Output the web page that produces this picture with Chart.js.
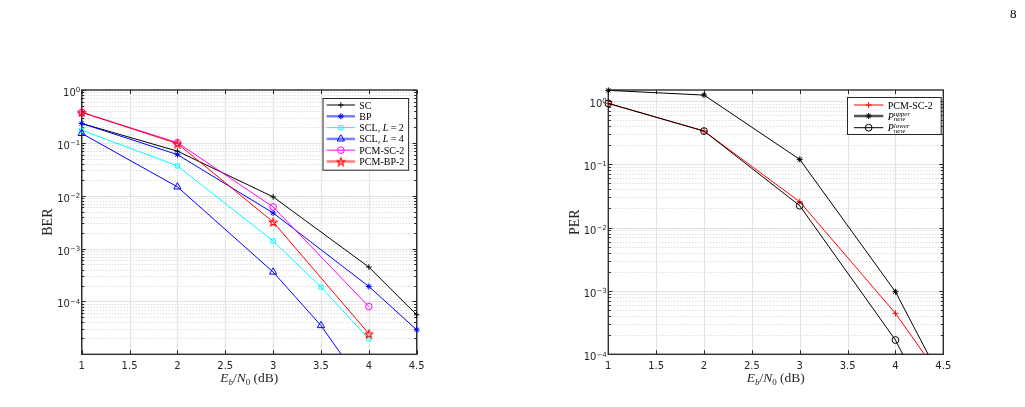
<!DOCTYPE html>
<html>
<head>
<meta charset="utf-8">
<script src="https://cdn.jsdelivr.net/npm/chart.js@4.4.1/dist/chart.umd.min.js"></script>
<style>
  html, body { margin: 0; padding: 0; background: #fff; }
  #page { position: relative; width: 1025px; height: 407px; overflow: hidden; }
  canvas { position: absolute; top: 0; }
  #pagenum { position: absolute; left: 1010px; top: 7px; font: 13px "Liberation Serif", serif; line-height: 13px; color: #000; }
</style>
</head>
<body>
<div id="page">
  <canvas id="ber" width="512" height="407" style="left:0"></canvas>
  <canvas id="per" width="513" height="407" style="left:512px"></canvas>
  <div id="pagenum">8</div>
</div>
<script>
// BER plot (left)
const snrA = [1, 2, 3, 4, 4.5];
const snrB = [1, 2, 3, 3.5, 4];
const snrC = [1, 2, 3, 4];
const berSC    = [0.233, 0.0697, 0.0095, 4.47e-4, 5.6e-5];
const berBP    = [0.233, 0.060, 0.00472, 1.92e-4, 2.9e-5];
const berSCL2  = [0.174, 0.0367, 0.00139, 1.87e-4, 1.96e-5];
const berSCL4  = [0.151, 0.0147, 3.6e-4, 3.5e-5, 1.8e-6];
const berPCMSC = [0.378, 0.101, 0.00614, 8.0e-5];
const berPCMBP = [0.378, 0.097, 0.00319, 2.45e-5];

// PER plot (right)
const snrP = [1, 2, 3, 4, 4.5];
const perPCMSC = [0.91, 0.333, 0.0255, 4.43e-4, 3.8e-5];
const perUpper = [1.46, 1.23, 0.119, 9.7e-4, 3.5e-5];
const perLower = [0.91, 0.333, 0.0221, 1.68e-4, 5.5e-6];

const xTicks = [1, 1.5, 2, 2.5, 3, 3.5, 4, 4.5];
const berDecades = [0, -1, -2, -3, -4];
const perDecades = [0, -1, -2, -3, -4];

const TXT = '#262626';
const SERIF = '"Liberation Serif", "Times New Roman", serif';
const SANS = '"DejaVu Sans", sans-serif';

function pentagram(color, size) {
  const c = document.createElement('canvas');
  c.width = c.height = size;
  const g = c.getContext('2d');
  const cx = size / 2, cy = size / 2 + 0.5, R = size / 2 - 0.8, r = R * 0.42;
  g.beginPath();
  for (let i = 0; i < 10; i++) {
    const a = -Math.PI / 2 + i * Math.PI / 5;
    const rr = i % 2 ? r : R;
    g.lineTo(cx + rr * Math.cos(a), cy + rr * Math.sin(a));
  }
  g.closePath();
  g.strokeStyle = color;
  g.lineWidth = 1.1;
  g.stroke();
  return c;
}
const star5 = pentagram('#ff0000', 10);

function line(label, xs, ys, color, style, r, i) {
  return {
    label: label,
    data: xs.map((x, k) => ({ x: x, y: ys[k] })),
    borderColor: color, borderWidth: 1,
    pointStyle: style, pointRadius: r, pointHoverRadius: r,
    pointBorderColor: color, pointBackgroundColor: 'rgba(0,0,0,0)', pointBorderWidth: 1,
    fill: false, tension: 0, order: 10 - i,
    clip: { left: 10, top: 10, right: 10, bottom: 0 }
  };
}

// legend marker, same shapes as the chart points
function marker(ctx, style, x, y, r, color) {
  ctx.save();
  if (style instanceof HTMLCanvasElement) {
    ctx.drawImage(style, x - style.width / 2, y - style.height / 2);
    ctx.restore();
    return;
  }
  ctx.strokeStyle = color; ctx.lineWidth = 1;
  ctx.beginPath();
  if (style === 'cross') {
    ctx.moveTo(x - r, y); ctx.lineTo(x + r, y);
    ctx.moveTo(x, y - r); ctx.lineTo(x, y + r);
  } else if (style === 'star') {
    for (let k = 0; k < 4; k++) {
      const a = k * Math.PI / 4;
      ctx.moveTo(x - r * Math.cos(a), y - r * Math.sin(a));
      ctx.lineTo(x + r * Math.cos(a), y + r * Math.sin(a));
    }
  } else if (style === 'rect') {
    const s = r / Math.SQRT2;
    ctx.rect(x - s, y - s, 2 * s, 2 * s);
  } else if (style === 'triangle') {
    for (let k = 0; k < 3; k++) {
      const a = k * 2 * Math.PI / 3;
      ctx.lineTo(x + Math.sin(a) * r, y - Math.cos(a) * r);
    }
    ctx.closePath();
  } else {
    ctx.arc(x, y, r, 0, Math.PI * 2);
  }
  ctx.stroke();
  ctx.restore();
}

function segFont(s, base) {
  return (s.it ? 'italic ' : '') + (s.sz || base) + 'px ' + SERIF;
}
function richWidth(ctx, segs, base) {
  let w = 0;
  segs.forEach(s => { ctx.font = segFont(s, base); if (!s.stay) w += ctx.measureText(s.t).width; });
  return w;
}
function drawRich(ctx, x, y, segs, base) {
  segs.forEach(s => {
    ctx.font = segFont(s, base);
    ctx.fillText(s.t, x, y + (s.dy || 0));
    if (!s.stay) x += ctx.measureText(s.t).width;
  });
}

const frame = {
  id: 'frame',
  beforeDatasetsDraw(chart) {
    const { ctx, chartArea: a, scales: { x, y } } = chart;
    ctx.save();
    const lo = Math.floor(Math.log10(y.min)), hi = Math.ceil(Math.log10(y.max));
    const minor = [], major = [];
    for (let d = lo; d <= hi; d++) {
      for (let m = 1; m <= 9; m++) {
        const v = m * Math.pow(10, d);
        if (v < y.min * 0.999 || v > y.max * 1.001) continue;
        (m === 1 ? major : minor).push(Math.round(y.getPixelForValue(v)) + 0.5);
      }
    }
    // minor dotted grid
    ctx.strokeStyle = '#cfcfcf'; ctx.lineWidth = 1; ctx.setLineDash([1, 2]);
    ctx.beginPath();
    minor.forEach(py => { ctx.moveTo(a.left, py); ctx.lineTo(a.right, py); });
    ctx.stroke();
    // major grid
    ctx.setLineDash([]);
    ctx.strokeStyle = '#e3e3e3'; ctx.lineWidth = 1.2;
    ctx.beginPath();
    major.forEach(py => { ctx.moveTo(a.left, py); ctx.lineTo(a.right, py); });
    xTicks.forEach(v => {
      const px = Math.round(x.getPixelForValue(v)) + 0.5;
      ctx.moveTo(px, a.top); ctx.lineTo(px, a.bottom);
    });
    ctx.stroke();
    // inward ticks
    ctx.strokeStyle = TXT; ctx.lineWidth = 1;
    ctx.beginPath();
    minor.forEach(py => {
      ctx.moveTo(a.left, py); ctx.lineTo(a.left + 2.5, py);
      ctx.moveTo(a.right, py); ctx.lineTo(a.right - 2.5, py);
    });
    major.forEach(py => {
      ctx.moveTo(a.left, py); ctx.lineTo(a.left + 4, py);
      ctx.moveTo(a.right, py); ctx.lineTo(a.right - 4, py);
    });
    xTicks.forEach(v => {
      const px = Math.round(x.getPixelForValue(v)) + 0.5;
      ctx.moveTo(px, a.bottom); ctx.lineTo(px, a.bottom - 4);
      ctx.moveTo(px, a.top); ctx.lineTo(px, a.top + 4);
    });
    ctx.stroke();
    // box
    ctx.strokeStyle = '#2e2e2e'; ctx.lineWidth = 1.4;
    ctx.strokeRect(a.left, a.top, a.right - a.left, a.bottom - a.top);
    ctx.restore();
  },
  afterDraw(chart, args, o) {
    const { ctx, chartArea: a, scales: { x, y } } = chart;
    ctx.save();
    ctx.fillStyle = TXT;
    // decade labels 10^n
    ctx.textAlign = 'left'; ctx.textBaseline = 'alphabetic';
    o.decades.forEach(e => {
      const py = y.getPixelForValue(Math.pow(10, e));
      const ex = e < 0 ? '\u2212' + (-e) : String(e);
      ctx.font = '7px ' + SANS;
      const we = ctx.measureText(ex).width;
      ctx.font = '10px ' + SANS;
      const wb = ctx.measureText('10').width;
      const right = a.left - 1.5;
      ctx.fillText('10', right - we - wb, py + 6);
      ctx.font = '7px ' + SANS;
      ctx.fillText(ex, right - we, py + 2.3);
    });
    // x title
    const xt = [
      { t: 'E', it: 1 }, { t: 'b', it: 1, sz: 9, dy: 2.5 }, { t: '/' },
      { t: 'N', it: 1 }, { t: '0', sz: 9, dy: 2.5 }, { t: ' (dB)' }
    ];
    const cx = (a.left + a.right) / 2;
    drawRich(ctx, cx - richWidth(ctx, xt, 13.5) / 2, 382, xt, 13.5);
    // y title
    ctx.save();
    ctx.translate(o.yTitleX, (a.top + a.bottom) / 2);
    ctx.rotate(-Math.PI / 2);
    ctx.textAlign = 'center'; ctx.textBaseline = 'middle';
    ctx.font = '14px ' + SERIF;
    ctx.fillText(o.yTitle, 0, 0);
    ctx.restore();
    // legend
    const L = o.legend;
    ctx.fillStyle = '#fff';
    ctx.fillRect(L.box[0], L.box[1], L.box[2], L.box[3]);
    ctx.strokeStyle = TXT; ctx.lineWidth = 1;
    ctx.strokeRect(L.box[0] + 0.5, L.box[1] + 0.5, L.box[2], L.box[3]);
    const sets = chart.data.datasets;
    L.items.forEach((it, i) => {
      const ds = sets[i], ry = L.rows[i];
      ctx.strokeStyle = it.c; ctx.lineWidth = it.w;
      ctx.beginPath(); ctx.moveTo(L.x0, ry); ctx.lineTo(L.x1, ry); ctx.stroke();
      marker(ctx, ds.pointStyle, (L.x0 + L.x1) / 2, ry, ds.pointRadius, ds.borderColor);
      ctx.fillStyle = '#000';
      ctx.textAlign = 'left'; ctx.textBaseline = 'alphabetic';
      drawRich(ctx, L.tx, ry + 3.5, it.text, 10);
    });
    ctx.restore();
  }
};

function makeChart(id, sets, yMin, yMax, yWidth, padRight, opts) {
  return new Chart(document.getElementById(id), {
    type: 'line',
    data: { datasets: sets },
    options: {
      responsive: false, animation: false, devicePixelRatio: 1, events: [],
      layout: { padding: { top: 90, right: padRight, left: 0, bottom: 0 } },
      scales: {
        x: {
          type: 'linear', min: 1, max: 4.5,
          afterBuildTicks: s => { s.ticks = xTicks.map(v => ({ value: v })); },
          afterFit: s => { s.height = 52.7; },
          grid: { display: false, drawTicks: false }, border: { display: false },
          ticks: {
            padding: 6, color: TXT, font: { family: 'DejaVu Sans', size: 10 },
            maxRotation: 0, autoSkip: false, callback: v => String(v)
          }
        },
        y: {
          type: 'logarithmic', min: yMin, max: yMax,
          afterFit: s => { s.width = yWidth; },
          grid: { display: false, drawTicks: false }, border: { display: false },
          ticks: { display: false }
        }
      },
      plugins: { legend: { display: false }, tooltip: { enabled: false }, frame: opts }
    },
    plugins: [frame]
  });
}

const berSets = [
  line('SC', snrA, berSC, '#000000', 'cross', 2.8, 0),
  line('BP', snrA, berBP, '#0000ff', 'star', 3, 1),
  line('SCL, L = 2', snrB, berSCL2, '#00ffff', 'rect', 3, 2),
  line('SCL, L = 4', snrB, berSCL4, '#0000ff', 'triangle', 4.2, 3),
  line('PCM-SC-2', snrC, berPCMSC, '#ff00ff', 'circle', 3.3, 4),
  line('PCM-BP-2', snrC, berPCMBP, '#ff0000', star5, 5, 5)
];

makeChart('ber', berSets, 1e-5, 1, 81.7, 95.3, {
  decades: berDecades, yTitle: 'BER', yTitleX: 48.5,
  legend: {
    box: [322.5, 98, 85.6, 71.7], x0: 326.7, x1: 355, tx: 359.3,
    rows: [105, 116.3, 127.6, 138.9, 150.2, 161.5],
    items: [
      { text: [{ t: 'SC' }], w: 1, c: '#000' },
      { text: [{ t: 'BP' }], w: 2.5, c: 'rgba(40,60,255,0.65)' },
      { text: [{ t: 'SCL, ' }, { t: 'L', it: 1 }, { t: ' = 2' }], w: 1, c: '#00ffff' },
      { text: [{ t: 'SCL, ' }, { t: 'L', it: 1 }, { t: ' = 4' }], w: 2.5, c: 'rgba(40,60,255,0.65)' },
      { text: [{ t: 'PCM-SC-2' }], w: 1, c: '#ff00ff' },
      { text: [{ t: 'PCM-BP-2' }], w: 2.5, c: 'rgba(255,40,40,0.6)' }
    ]
  }
});

const perSets = [
  line('PCM-SC-2', snrP, perPCMSC, '#ff0000', 'cross', 3, 0),
  line('P upper', snrP, perUpper, '#000000', 'star', 3, 1),
  line('P lower', snrP, perLower, '#000000', 'circle', 3.4, 2)
];

makeChart('per', perSets, 1e-4, 1.48, 96.3, 81.7, {
  decades: perDecades, yTitle: 'PER', yTitleX: 63,
  legend: {
    box: [335, 97, 93.7, 37], x0: 342, x1: 371.3, tx: 375.7,
    rows: [105, 116, 127.7],
    items: [
      { text: [{ t: 'PCM-SC-2' }], w: 1, c: '#ff0000' },
      { text: [{ t: 'P', it: 1 }, { t: 'upper', it: 1, sz: 7, dy: -3.5, stay: 1 }, { t: 'new', it: 1, sz: 7, dy: 1.5 }], w: 2.5, c: '#555' },
      { text: [{ t: 'P', it: 1 }, { t: 'lower', it: 1, sz: 7, dy: -3.5, stay: 1 }, { t: 'new', it: 1, sz: 7, dy: 1.5 }], w: 1, c: '#000' }
    ]
  }
});
</script>
</body>
</html>
